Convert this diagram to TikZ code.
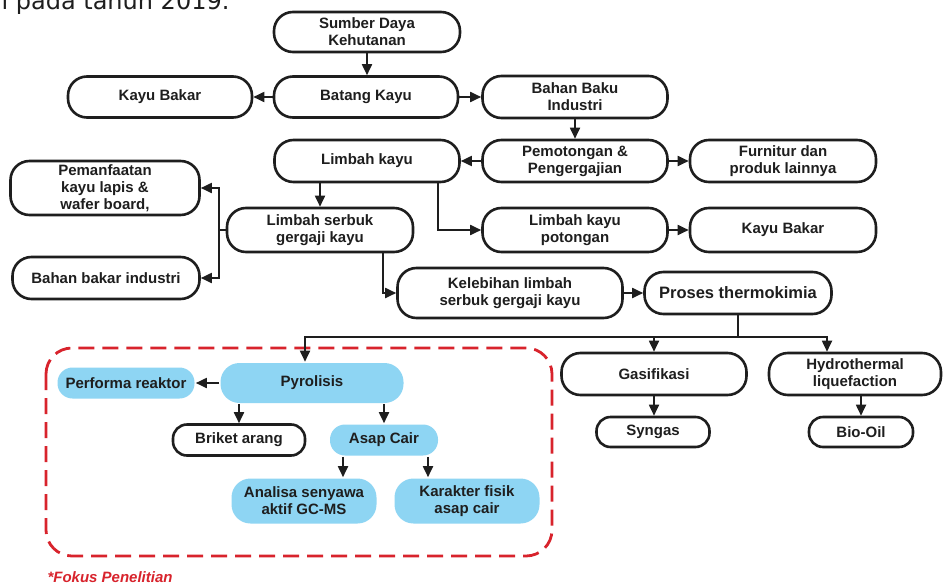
\documentclass[tikz,border=0pt]{standalone}
\usepackage{fontspec}
\setmainfont{Liberation Sans}
\newfontfamily\capfont{DejaVu Sans}
\usetikzlibrary{arrows.meta,calc}
\definecolor{pblue}{HTML}{8ED5F3}
\definecolor{fred}{HTML}{D8232C}
\definecolor{ink}{HTML}{1E1E1E}
\tikzset{
  box/.style={draw=ink, line width=2.6pt, align=center, inner sep=0pt,
     font=\bfseries\fontsize{15}{17}\selectfont, text=ink},
  pill/.style={box, rounded corners=19pt},
  spill/.style={box, rounded corners=14pt},
  bpill/.style={box, draw=none, fill=pblue, rounded corners=19pt},
  bspill/.style={box, draw=none, fill=pblue, rounded corners=15pt},
  conn/.style={draw=ink, line width=1.8pt},
  arr/.style={conn, -{Triangle[length=11pt,width=10pt]}},
}
\begin{document}
\begin{tikzpicture}[x=1pt,y=-1pt]
\useasboundingbox (0,0) rectangle (944,586);
\fill[white] (0,0) rectangle (944,586);
\node[anchor=base west, font=\capfont\fontsize{24}{24}\selectfont, text=ink] (cap) at (-2,10) {i pada tahun 2019.};

% top part
\node[pill, minimum width=186pt, minimum height=40pt] (sumber) at (367,32) {Sumber Daya\\Kehutanan};
\node[pill, minimum width=184pt, minimum height=41pt] (batang) at (366,97) {Batang Kayu};
\node[pill, minimum width=184pt, minimum height=41pt] (kbl) at (160,97) {Kayu Bakar};
\node[pill, minimum width=185pt, minimum height=42pt] (bahan) at (575,97) {Bahan Baku\\Industri};
\node[pill, minimum width=185pt, minimum height=42pt] (limbah) at (367,161) {Limbah kayu};
\node[pill, minimum width=185pt, minimum height=42pt] (pemot) at (575,161) {Pemotongan \&\\Pengergajian};
\node[pill, minimum width=186pt, minimum height=42pt] (furn) at (783,161) {Furnitur dan\\produk lainnya};
\node[pill, minimum width=189pt, minimum height=54pt] (pemanf) at (105,188) {Pemanfaatan\\kayu lapis \&\\wafer board,};
\node[pill, minimum width=186pt, minimum height=44pt] (serbuk) at (320,230) {Limbah serbuk\\gergaji kayu};
\node[pill, minimum width=187pt, minimum height=42pt] (bbi) at (106,278) {Bahan bakar industri};
\node[pill, minimum width=185pt, minimum height=44pt] (potong) at (575,230) {Limbah kayu\\potongan};
\node[pill, minimum width=186pt, minimum height=44pt] (kbr) at (783,230) {Kayu Bakar};
\node[pill, minimum width=225pt, minimum height=50pt] (lebih) at (510,293) {Kelebihan limbah\\serbuk gergaji kayu};
\node[pill, minimum width=187pt, minimum height=42pt, font=\bfseries\fontsize{16.5}{18}\selectfont] (proses) at (738,293) {Proses thermokimia};

% lower part
\node[bpill, minimum width=183pt, minimum height=40pt] (pyro) at (312,383) {Pyrolisis};
\node[bspill, minimum width=137pt, minimum height=31pt] (perf) at (126,383) {Performa reaktor};
\node[spill, minimum width=132pt, minimum height=31pt] (briket) at (239,440) {Briket arang};
\node[bspill, minimum width=108pt, minimum height=31pt] (asap) at (384,440) {Asap Cair};
\node[bpill, minimum width=145pt, minimum height=45pt] (analisa) at (304,501) {Analisa senyawa\\aktif GC-MS};
\node[bpill, minimum width=145pt, minimum height=45pt] (karak) at (467,501) {Karakter fisik\\asap cair};
\node[pill, minimum width=185pt, minimum height=42pt] (gas) at (654,374) {Gasifikasi};
\node[pill, minimum width=172pt, minimum height=42pt] (hydro) at (855,374) {Hydrothermal\\liquefaction};
\node[spill, minimum width=113pt, minimum height=30pt] (syngas) at (653,432) {Syngas};
\node[spill, minimum width=104pt, minimum height=30pt] (biooil) at (861,432) {Bio-Oil};

% focus box
\draw[fred, line width=2.8pt, dash pattern=on 16pt off 8pt, rounded corners=26pt] (46,348) rectangle (552,556);
\node[anchor=base west, font=\bfseries\itshape\fontsize{15}{17}\selectfont, text=fred] (fokus) at (44,582) {*Fokus Penelitian};

% connectors
\draw[arr] (sumber.south) -- (sumber.south |- batang.north);
\draw[arr] (batang.west) -- (kbl.east);
\draw[arr] (batang.east) -- (bahan.west);
\draw[arr] (bahan.south) -- (bahan.south |- pemot.north);
\draw[arr] (pemot.west) -- (limbah.east);
\draw[arr] (pemot.east) -- (furn.west);
\draw[arr] (serbuk.north |- limbah.south) -- (serbuk.north);
\draw[arr] ([xshift=71pt]limbah.south) |- (potong.west);
\draw[arr] (potong.east) -- (kbr.west);
\coordinate (j1) at (219,230);
\draw[conn] (serbuk.west) -- (j1);
\draw[arr] (j1) |- (pemanf.east);
\draw[arr] (j1) |- (bbi.east);
\draw[arr] ([xshift=63pt]serbuk.south) |- (lebih.west);
\draw[arr] (lebih.east) -- (proses.west);
\coordinate (br) at (738,337);
\draw[conn] (proses.south) -- (br);
\draw[arr] (br) -| ([xshift=-7pt]pyro.north);
\draw[arr] (br) -| (gas.north);
\draw[arr] (br) -| ([xshift=-28pt]hydro.north);
\draw[arr] (gas.south) -- (gas.south |- syngas.north);
\draw[arr] (biooil.north |- hydro.south) -- (biooil.north);
\draw[arr] (pyro.west) -- (perf.east);
\draw[arr] (briket.north |- pyro.south) -- (briket.north);
\draw[arr] (asap.north |- pyro.south) -- (asap.north);
\draw[arr] ([xshift=-41pt]asap.south) -- ([xshift=-41pt]asap.south |- analisa.north);
\draw[arr] ([xshift=44pt]asap.south) -- ([xshift=44pt]asap.south |- karak.north);
\end{tikzpicture}
\end{document}
